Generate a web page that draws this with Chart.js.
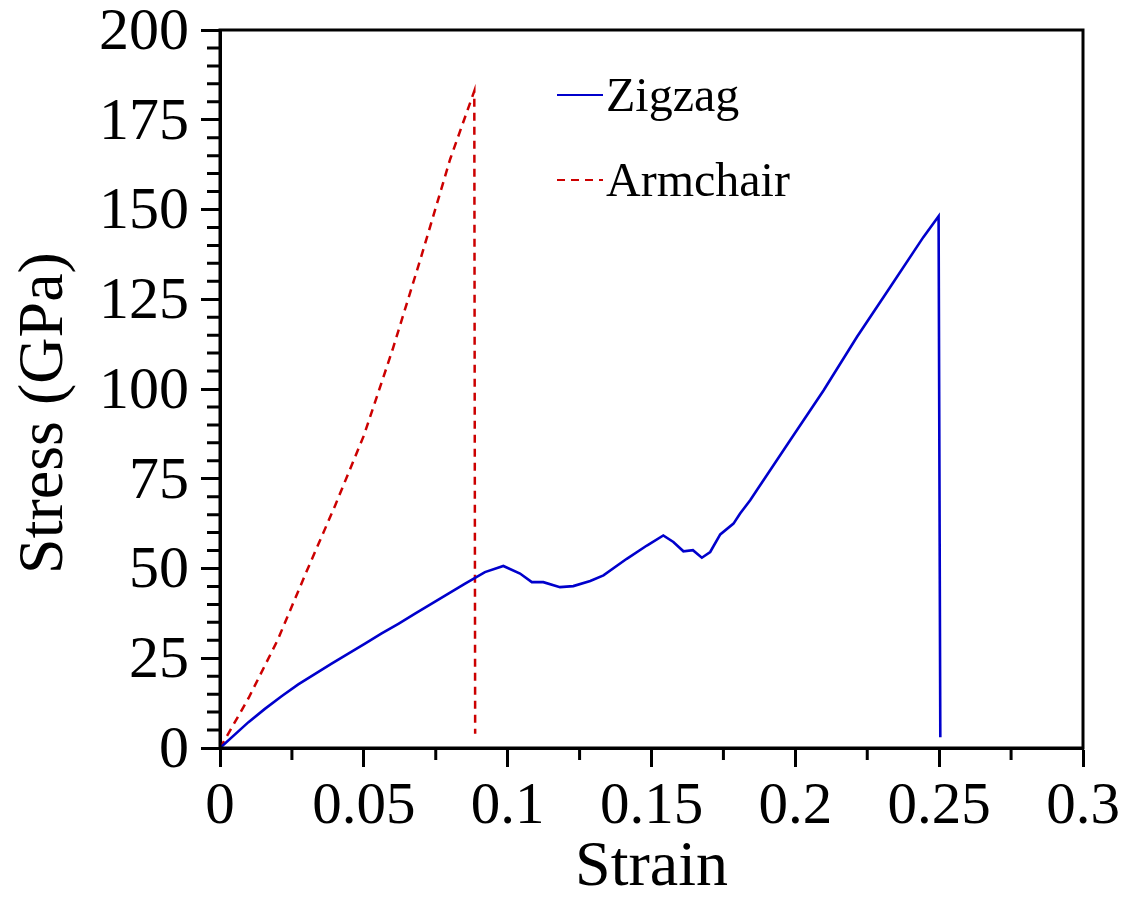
<!DOCTYPE html>
<html><head><meta charset="utf-8">
<script src="https://cdn.jsdelivr.net/npm/chart.js@4.4.1/dist/chart.umd.min.js"></script>
<style>html,body{margin:0;padding:0;background:#fff;overflow:hidden;} #wrap{width:1135px;height:902px;}</style>
</head><body><div id="wrap"><canvas id="c" width="1135" height="902"></canvas></div>
<script>
// ---- data ----
const strainZigzag = [0, 0.0099, 0.0156, 0.0214, 0.0272, 0.0388, 0.0446, 0.0504, 0.0562, 0.0620, 0.0678, 0.0736, 0.0794, 0.0852, 0.0921, 0.0985, 0.1043, 0.1084, 0.1124, 0.1182, 0.1228, 0.1287, 0.1333, 0.1414, 0.1484, 0.1541, 0.1576, 0.1611, 0.1644, 0.1675, 0.1704, 0.1739, 0.1785, 0.1808, 0.1843, 0.1866, 0.1982, 0.2098, 0.2214, 0.2330, 0.2445, 0.2498, 0.2504];
const stressZigzag = [0, 7.2, 10.9, 14.4, 17.7, 23.5, 26.3, 29.1, 31.9, 34.6, 37.4, 40.2, 43.0, 45.8, 49.0, 50.7, 48.6, 46.2, 46.2, 44.8, 45.1, 46.5, 48.1, 52.7, 56.4, 59.2, 57.4, 54.8, 55.1, 53.0, 54.6, 59.5, 62.5, 65.3, 69.0, 71.8, 85.7, 99.6, 114.5, 128.4, 142.3, 148.1, 3];
const strainArmchair = [0, 0.0029, 0.01, 0.02, 0.03, 0.04, 0.05, 0.06, 0.07, 0.08, 0.0884, 0.0887];
const stressArmchair = [0, 4, 14, 30, 49, 67.5, 87, 111, 137, 164, 183, 4];
const seriesLabels = ['Zigzag', 'Armchair'];
const xTickValues = [0, 0.05, 0.1, 0.15, 0.2, 0.25, 0.3];
const xTickLabels = ['0', '0.05', '0.1', '0.15', '0.2', '0.25', '0.3'];
const yTickValues = [0, 25, 50, 75, 100, 125, 150, 175, 200];
const yTickLabels = ['0', '25', '50', '75', '100', '125', '150', '175', '200'];

const FONT = "'Liberation Serif', 'Times New Roman', serif";
Chart.defaults.font.family = FONT;
Chart.defaults.color = '#000';

const toPoints = (xs, ys) => xs.map((x, i) => ({x: x, y: ys[i]}));

const framePlugin = {
  id: 'frame',
  afterDatasetsDraw(chart) {
    const ctx = chart.ctx, a = chart.chartArea;
    const xs = chart.scales.x, ys = chart.scales.y;
    ctx.save();
    ctx.strokeStyle = '#000';
    ctx.lineWidth = 3;
    // minor ticks
    ctx.beginPath();
    for (let k = 1; k < 12; k += 2) {
      const px = xs.getPixelForValue(k * 0.025);
      ctx.moveTo(px, a.bottom); ctx.lineTo(px, a.bottom + 12);
    }
    for (let k = 1; k < 40; k++) {
      if (k % 5 === 0) continue;
      const py = ys.getPixelForValue(k * 5);
      ctx.moveTo(a.left, py); ctx.lineTo(a.left - 13, py);
    }
    ctx.stroke();
    ctx.strokeRect(a.left, a.top, a.right - a.left, a.bottom - a.top);
    // legend
    chart.data.datasets.forEach((ds, i) => {
      const y = 95 + i * 85;
      ctx.beginPath();
      ctx.strokeStyle = ds.borderColor;
      ctx.lineWidth = 2;
      ctx.setLineDash(ds.borderDash || []);
      ctx.moveTo(557, y); ctx.lineTo(603, y);
      ctx.stroke();
      ctx.setLineDash([]);
      ctx.fillStyle = '#000';
      ctx.font = '48px ' + FONT;
      ctx.textBaseline = 'middle';
      ctx.textAlign = 'left';
      ctx.fillText(ds.label, 606, y + 3);
    });
    ctx.restore();
  }
};

new Chart(document.getElementById('c'), {
  type: 'line',
  data: {
    datasets: [
      {label: seriesLabels[0], data: toPoints(strainZigzag, stressZigzag), borderColor: '#0000CC', borderWidth: 2.6, pointRadius: 0, tension: 0, fill: false},
      {label: seriesLabels[1], data: toPoints(strainArmchair, stressArmchair), borderColor: '#CC0000', borderWidth: 2.5, borderDash: [8, 6], pointRadius: 0, tension: 0, fill: false}
    ]
  },
  options: {
    responsive: false,
    animation: false,
    devicePixelRatio: 1,
    layout: {padding: {top: 30, right: 52, bottom: 0, left: 0}},
    plugins: {legend: {display: false}, tooltip: {enabled: false}},
    scales: {
      x: {
        type: 'linear', min: 0, max: 0.3,
        afterBuildTicks: s => { s.ticks = xTickValues.map(v => ({value: v})); },
        ticks: {callback: (v, i) => xTickLabels[i], font: {size: 59}, color: '#000', padding: 5, maxRotation: 0, autoSkip: false},
        grid: {drawOnChartArea: false, drawTicks: true, tickLength: 19, tickWidth: 3, tickColor: '#000'},
        border: {display: true, color: '#000', width: 3},
        title: {display: true, text: 'Strain', font: {size: 64}, color: '#000', padding: {top: 0, bottom: -5}},
        afterFit: s => { s.height = 154; s.paddingLeft = 0; s.paddingRight = 0; }
      },
      y: {
        type: 'linear', min: 0, max: 200,
        afterBuildTicks: s => { s.ticks = yTickValues.map(v => ({value: v})); },
        ticks: {callback: (v, i) => yTickLabels[i], font: {size: 60}, color: '#000', padding: 12, labelOffset: 3, autoSkip: false},
        grid: {drawOnChartArea: false, drawTicks: true, tickLength: 19, tickWidth: 3, tickColor: '#000'},
        border: {display: true, color: '#000', width: 3},
        title: {display: true, text: 'Stress (GPa)   ', font: {size: 64}, color: '#000', padding: {top: 7, bottom: 0}},
        afterFit: s => { s.width = 220; s.paddingTop = 0; s.paddingBottom = 0; }
      }
    }
  },
  plugins: [framePlugin]
});
</script>
</body></html>
